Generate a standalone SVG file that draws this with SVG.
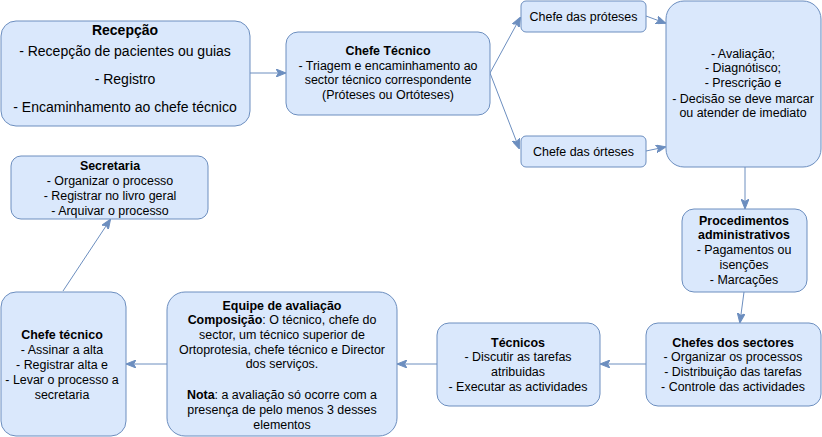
<svg xmlns="http://www.w3.org/2000/svg" width="822" height="437" viewBox="0 0 822 437">
<style>
.box{fill:#dae8fc;stroke:#6c8ebf;stroke-width:1}
text{font-family:"Liberation Sans",Arial,Helvetica,sans-serif;font-size:12.45px;fill:#000;text-anchor:middle}
.b{font-weight:bold}
.l{font-size:14px}
.c{fill:none;stroke:#6c8ebf;stroke-width:1;marker-end:url(#ah)}
</style>
<defs>
<marker id="ah" viewBox="0 0 10 8" refX="9" refY="4" markerWidth="10" markerHeight="8" markerUnits="userSpaceOnUse" orient="auto">
<path d="M0,0 L10,4 L0,8 L2.5,4 z" fill="#6c8ebf" stroke="#6c8ebf" stroke-width="1"/>
</marker>
</defs>
<g id="connectors">
<path class="c" d="M250,73 L285,73"/>
<path class="c" d="M490,73 L520,18"/>
<path class="c" d="M490,73 L519,148"/>
<path class="c" d="M646,16 L665,23"/>
<path class="c" d="M646,151 L665,147"/>
<path class="c" d="M745,167 L745,208"/>
<path class="c" d="M744,292 L740,322"/>
<path class="c" d="M646,364 L601,364"/>
<path class="c" d="M437,364 L398,364"/>
<path class="c" d="M167,364 L127,364"/>
<path class="c" d="M63,291 L110,220"/>
</g>
<g id="recepcao">
<rect class="box" x="1" y="21" width="249" height="105" rx="15"/>
<text class="b l" x="125" y="35">Recepção</text>
<text class="l" x="125" y="56">- Recepção de pacientes ou guias</text>
<text class="l" x="125" y="84">- Registro</text>
<text class="l" x="125" y="112">- Encaminhamento ao chefe técnico</text>
</g>
<g id="chefe-tecnico-top">
<rect class="box" x="286" y="32" width="204" height="83" rx="12"/>
<text class="b" x="388" y="55">Chefe Técnico</text>
<text x="388" y="69.5">- Triagem e encaminhamento ao</text>
<text x="388" y="84">sector técnico correspondente</text>
<text x="388" y="98.5">(Próteses ou Ortóteses)</text>
</g>
<g id="chefe-proteses">
<rect class="box" x="521" y="1" width="125" height="31" rx="5"/>
<text x="583.5" y="20.5">Chefe das próteses</text>
</g>
<g id="chefe-orteses">
<rect class="box" x="521" y="136" width="125" height="31" rx="5"/>
<text x="583.5" y="155.5">Chefe das órteses</text>
</g>
<g id="avaliacao">
<rect class="box" x="666" y="1" width="155" height="166" rx="18"/>
<text x="743" y="57.5">- Avaliação;</text>
<text x="743" y="72">- Diagnótisco;</text>
<text x="743" y="87">- Prescrição e</text>
<text x="743" y="102.5">- Decisão se deve marcar</text>
<text x="743" y="117">ou atender de imediato</text>
</g>
<g id="procedimentos">
<rect class="box" x="682" y="209" width="125" height="83" rx="12"/>
<text class="b" x="744" y="224.5">Procedimentos</text>
<text class="b" x="744" y="239">administrativos</text>
<text x="744" y="253.5">- Pagamentos ou</text>
<text x="744" y="269">isenções</text>
<text x="744" y="283.5">- Marcações</text>
</g>
<g id="chefes-sectores">
<rect class="box" x="646" y="323" width="175" height="83" rx="12"/>
<text class="b" x="733" y="346.5">Chefes dos sectores</text>
<text x="733" y="361">- Organizar os processos</text>
<text x="733" y="376">- Distribuição das tarefas</text>
<text x="733" y="391">- Controle das actividades</text>
</g>
<g id="tecnicos">
<rect class="box" x="437" y="323" width="163" height="83" rx="12"/>
<text class="b" x="518" y="346.5">Técnicos</text>
<text x="518" y="361">- Discutir as tarefas</text>
<text x="518" y="376">atribuidas</text>
<text x="518" y="391">- Executar as actividades</text>
</g>
<g id="equipe">
<rect class="box" x="167" y="292" width="230" height="144" rx="18"/>
<text class="b" x="282" y="309.5">Equipe de avaliação</text>
<text x="282" y="323.5"><tspan class="b">Composição</tspan>: O técnico, chefe do</text>
<text x="282" y="338.5">sector, um técnico superior de</text>
<text x="282" y="353.5">Ortoprotesia, chefe técnico e Director</text>
<text x="282" y="367.5">dos serviços.</text>
<text x="282" y="398.5"><tspan class="b">Nota</tspan>: a avaliação só ocorre com a</text>
<text x="282" y="413.5">presença de pelo menos 3 desses</text>
<text x="282" y="428.5">elementos</text>
</g>
<g id="chefe-tecnico-bottom">
<rect class="box" x="1" y="292" width="125" height="144" rx="15"/>
<text class="b" x="62" y="338.5">Chefe técnico</text>
<text x="62" y="353.5">- Assinar a alta</text>
<text x="62" y="368.5">- Registrar alta e</text>
<text x="62" y="383.5">- Levar o processo a</text>
<text x="62" y="398.5">secretaria</text>
</g>
<g id="secretaria">
<rect class="box" x="11" y="156" width="197" height="63" rx="10"/>
<text class="b" x="110" y="169.5">Secretaria</text>
<text x="110" y="184.5">- Organizar o processo</text>
<text x="110" y="199.5">- Registrar no livro geral</text>
<text x="110" y="214.5">- Arquivar o processo</text>
</g>
</svg>
